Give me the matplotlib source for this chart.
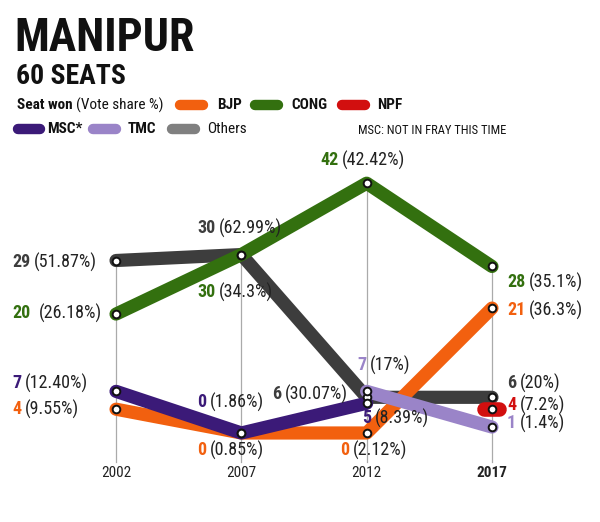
import numpy as np
import matplotlib
matplotlib.use("Agg")
import matplotlib.pyplot as plt
from matplotlib import font_manager

# pick a narrow font if there is one
names = set(f.name for f in font_manager.fontManager.ttflist)
FONT = 'DejaVu Sans'
for cand in ['Roboto Condensed', 'Liberation Sans Narrow', 'Open Sans Condensed', 'Noto Sans']:
    if cand in names:
        FONT = cand
        break
plt.rcParams['font.family'] = [FONT, 'DejaVu Sans']

years = [2002, 2007, 2012, 2017]

others_seats = [29, 30, 6, 6]
others_share = ['51.87%', '62.99%', '30.07%', '20%']
cong_seats = [20, 30, 42, 28]
cong_share = ['26.18%', '34.3%', '42.42%', '35.1%']
bjp_seats = [4, 0, 0, 21]
bjp_share = ['9.55%', '0.85%', '2.12%', '36.3%']
msc_years = [2002, 2007, 2012]
msc_seats = [7, 0, 5]
msc_share = ['12.40%', '1.86%', '8.39%']
tmc_years = [2012, 2017]
tmc_seats = [7, 1]
tmc_share = ['17%', '1.4%']
npf_years = [2017]
npf_seats = [4]
npf_share = ['7.2%']

C_OTH = '#3d3d3d'
C_CONG = '#33700f'
C_BJP = '#f2600f'
C_NPF = '#d20f0f'
C_MSC = '#3b1a78'
C_TMC = '#9a84c8'
TXT = '#222222'

fig = plt.figure(figsize=(6, 5.22), dpi=100)
ax = fig.add_axes([0, 0.0805, 1, 0.613])
ax.set_xlim(1997.37, 2021.31)
ax.set_ylim(-7.9, 45.9)
ax.axis('off')

# grid lines from top point down to labels
tops = [max(v) for v in zip(others_seats, cong_seats, bjp_seats)]
for yr, t in zip(years, tops):
    ax.plot([yr, yr], [t, -4.9], color='#aaaaaa', lw=0.9, zorder=1)
    ax.text(yr, -6.8, str(yr), ha='center', va='center', fontsize=11,
            color=TXT, fontweight='bold' if yr == 2017 else 'normal')

LW = 9.5
def series(x, y, c, z):
    ax.plot(x, y, color=c, lw=LW, solid_capstyle='round', solid_joinstyle='round', zorder=z)
    ax.plot(x, y, 'o', ms=5.5, mfc='white', mec='#111111', mew=1.4, zorder=10)

series(years, others_seats, C_OTH, 2)
series(years, bjp_seats, C_BJP, 3)
series(msc_years, msc_seats, C_MSC, 4)
series(years, cong_seats, C_CONG, 5)
series(tmc_years, tmc_seats, C_TMC, 6)
# NPF as a short blob around its point
ax.plot([npf_years[0] - 0.3, npf_years[0] + 0.3], [npf_seats[0]] * 2, color=C_NPF,
        lw=LW + 1, solid_capstyle='round', zorder=7)
ax.plot(npf_years, npf_seats, 'o', ms=5.5, mfc='white', mec='#111111', mew=1.4, zorder=10)

FS = 13
r = fig.canvas.get_renderer()

def put(xpix, ypix, seats, share, c, gap=' '):
    # bold coloured seat number, then regular share; xpix is the left edge
    t1 = fig.text(xpix / 600, 1 - ypix / 522, str(seats), ha='left', va='center',
                  fontsize=FS, fontweight='bold', color=c)
    bb = t1.get_window_extent(renderer=r)
    fig.text(bb.x1 / 600 + (0.006 if gap == ' ' else 0.014), 1 - ypix / 522,
             '(' + share + ')', ha='left', va='center', fontsize=FS, color=TXT)

# 2002
put(12, 262, others_seats[0], others_share[0], C_OTH)
put(12, 313, cong_seats[0], cong_share[0], C_CONG, gap='  ')
put(12, 383, msc_seats[0], msc_share[0], C_MSC)
put(12, 409, bjp_seats[0], bjp_share[0], C_BJP)
# 2007
put(197, 228, others_seats[1], others_share[1], C_OTH)
put(197, 292, cong_seats[1], cong_share[1], C_CONG)
put(197, 402, msc_seats[1], msc_share[1], C_MSC)
put(197, 450, bjp_seats[1], bjp_share[1], C_BJP)
# 2012
put(320, 160, cong_seats[2], cong_share[2], C_CONG)
put(272, 394, others_seats[2], others_share[2], C_OTH)
put(357, 365, tmc_seats[0], tmc_share[0], C_TMC)
put(362, 418, msc_seats[2], msc_share[2], C_MSC)
put(340, 450, bjp_seats[2], bjp_share[2], C_BJP)
# 2017
put(507, 282, cong_seats[3], cong_share[3], C_CONG)
put(507, 310, bjp_seats[3], bjp_share[3], C_BJP)
put(507, 383, others_seats[3], others_share[3], C_OTH)
put(507, 405, npf_seats[0], npf_share[0], C_NPF)
put(507, 423, tmc_seats[1], tmc_share[1], C_TMC)

# titles
fig.text(14 / 600, 1 - 38 / 522, 'MANIPUR', fontsize=33, fontweight='bold',
         ha='left', va='center', color='#111111')
fig.text(16 / 600, 1 - 76 / 522, '60 SEATS', fontsize=20, fontweight='bold',
         ha='left', va='center', color='#111111')

# legend
LFS = 11
t = fig.text(17 / 600, 1 - 105 / 522, 'Seat won', fontsize=LFS, fontweight='bold',
             ha='left', va='center', color='#111111')
bb = t.get_window_extent(renderer=r)
fig.text(bb.x1 / 600 + 0.005, 1 - 105 / 522, '(Vote share %)', fontsize=LFS,
         ha='left', va='center', color='#111111')

def pill(x0, x1, ypix, c):
    # x0, x1 are outer edges incl. round caps
    fig.add_artist(plt.Line2D([(x0 + 5) / 600, (x1 - 5) / 600], [1 - ypix / 522] * 2,
                              color=c, lw=7.5, solid_capstyle='round'))

leg = [(175, 208, 105, C_BJP, 'BJP', 217, 'bold'),
       (250, 283, 105, C_CONG, 'CONG', 291, 'bold'),
       (337, 370, 105, C_NPF, 'NPF', 377, 'bold'),
       (13, 45, 129, C_MSC, 'MSC*', 47, 'bold'),
       (88, 121, 129, C_TMC, 'TMC', 128, 'bold'),
       (167, 200, 129, '#808080', 'Others', 207, 'normal')]
for x0, x1, yp, c, name, xt, w in leg:
    pill(x0, x1, yp, c)
    fig.text(xt / 600, 1 - yp / 522, name, fontsize=LFS, fontweight=w,
             ha='left', va='center', color='#111111')

fig.text(358 / 600, 1 - 130 / 522, 'MSC: NOT IN FRAY THIS TIME', fontsize=9,
         ha='left', va='center', color='#111111')

fig.savefig('out.png', dpi=100)
